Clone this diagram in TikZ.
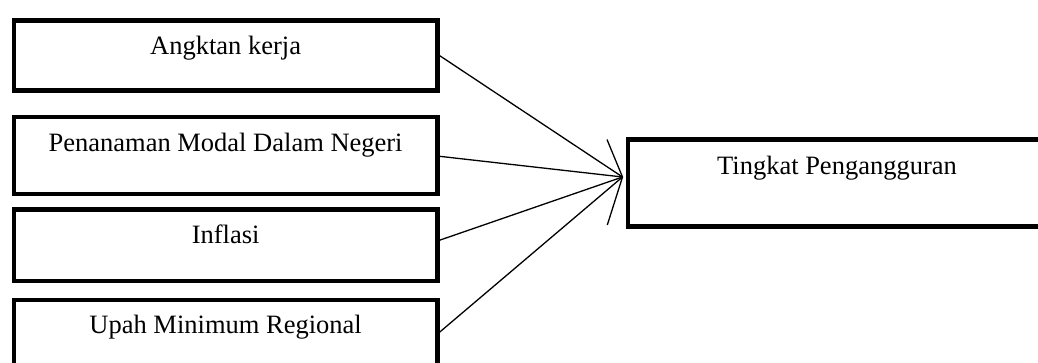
\documentclass[tikz,border=0pt]{standalone}
\usepackage{fontspec}
\setmainfont{Liberation Serif}
\begin{document}
\begin{tikzpicture}[x=1pt, y=-1pt,
  factor/.style={draw=black, line width=4.5pt, minimum width=423.3pt, anchor=north west, inner sep=0pt},
  result/.style={draw=black, line width=4.5pt, minimum width=430pt, minimum height=87pt, anchor=north west, inner sep=0pt},
  caption/.style={anchor=base, inner sep=0pt, font=\fontsize{26.5}{30}\selectfont},
  link/.style={draw=black, line width=1.3pt}]
  \useasboundingbox (0,0) rectangle (1038,363);
  \clip (0,0) rectangle (1038,363);

  % independent variables
  \node[factor, minimum height=70pt]   (b1) at (11.7,18.3)  {};
  \node[factor, minimum height=76.7pt] (b2) at (11.7,115)   {};
  \node[factor, minimum height=71.4pt] (b3) at (11.7,207.3) {};
  \node[factor, minimum height=72pt]   (b4) at (11.7,297.5) {};

  % dependent variable
  \node[result] (r) at (625.5,137.5) {};

  % box captions
  \node[caption] (t1) at ([yshift=-36pt]b1.north) {Angktan kerja};
  \node[caption] (t2) at ([yshift=-37pt]b2.north) {Penanaman Modal Dalam Negeri};
  \node[caption] (t3) at ([yshift=-36pt]b3.north) {Inflasi};
  \node[caption] (t4) at ([yshift=-36pt]b4.north) {Upah Minimum Regional};
  \node[caption] (tr) at (837,175) {Tingkat Pengangguran};

  % converging arrows
  \coordinate (tip) at (622.5,177);
  \draw[link] (b1.east) -- (tip);
  \draw[link] ([yshift=-0.7pt]b2.east) -- (tip);
  \draw[link] ([yshift=5pt]b3.east) -- (tip);
  \draw[link] ([yshift=3.5pt]b4.east) -- (tip);
  \coordinate (barbup) at (607,139.5);
  \coordinate (barbdown) at (607.3,225);
  \draw[link] (barbup) -- (tip) -- (barbdown);
\end{tikzpicture}
\end{document}
